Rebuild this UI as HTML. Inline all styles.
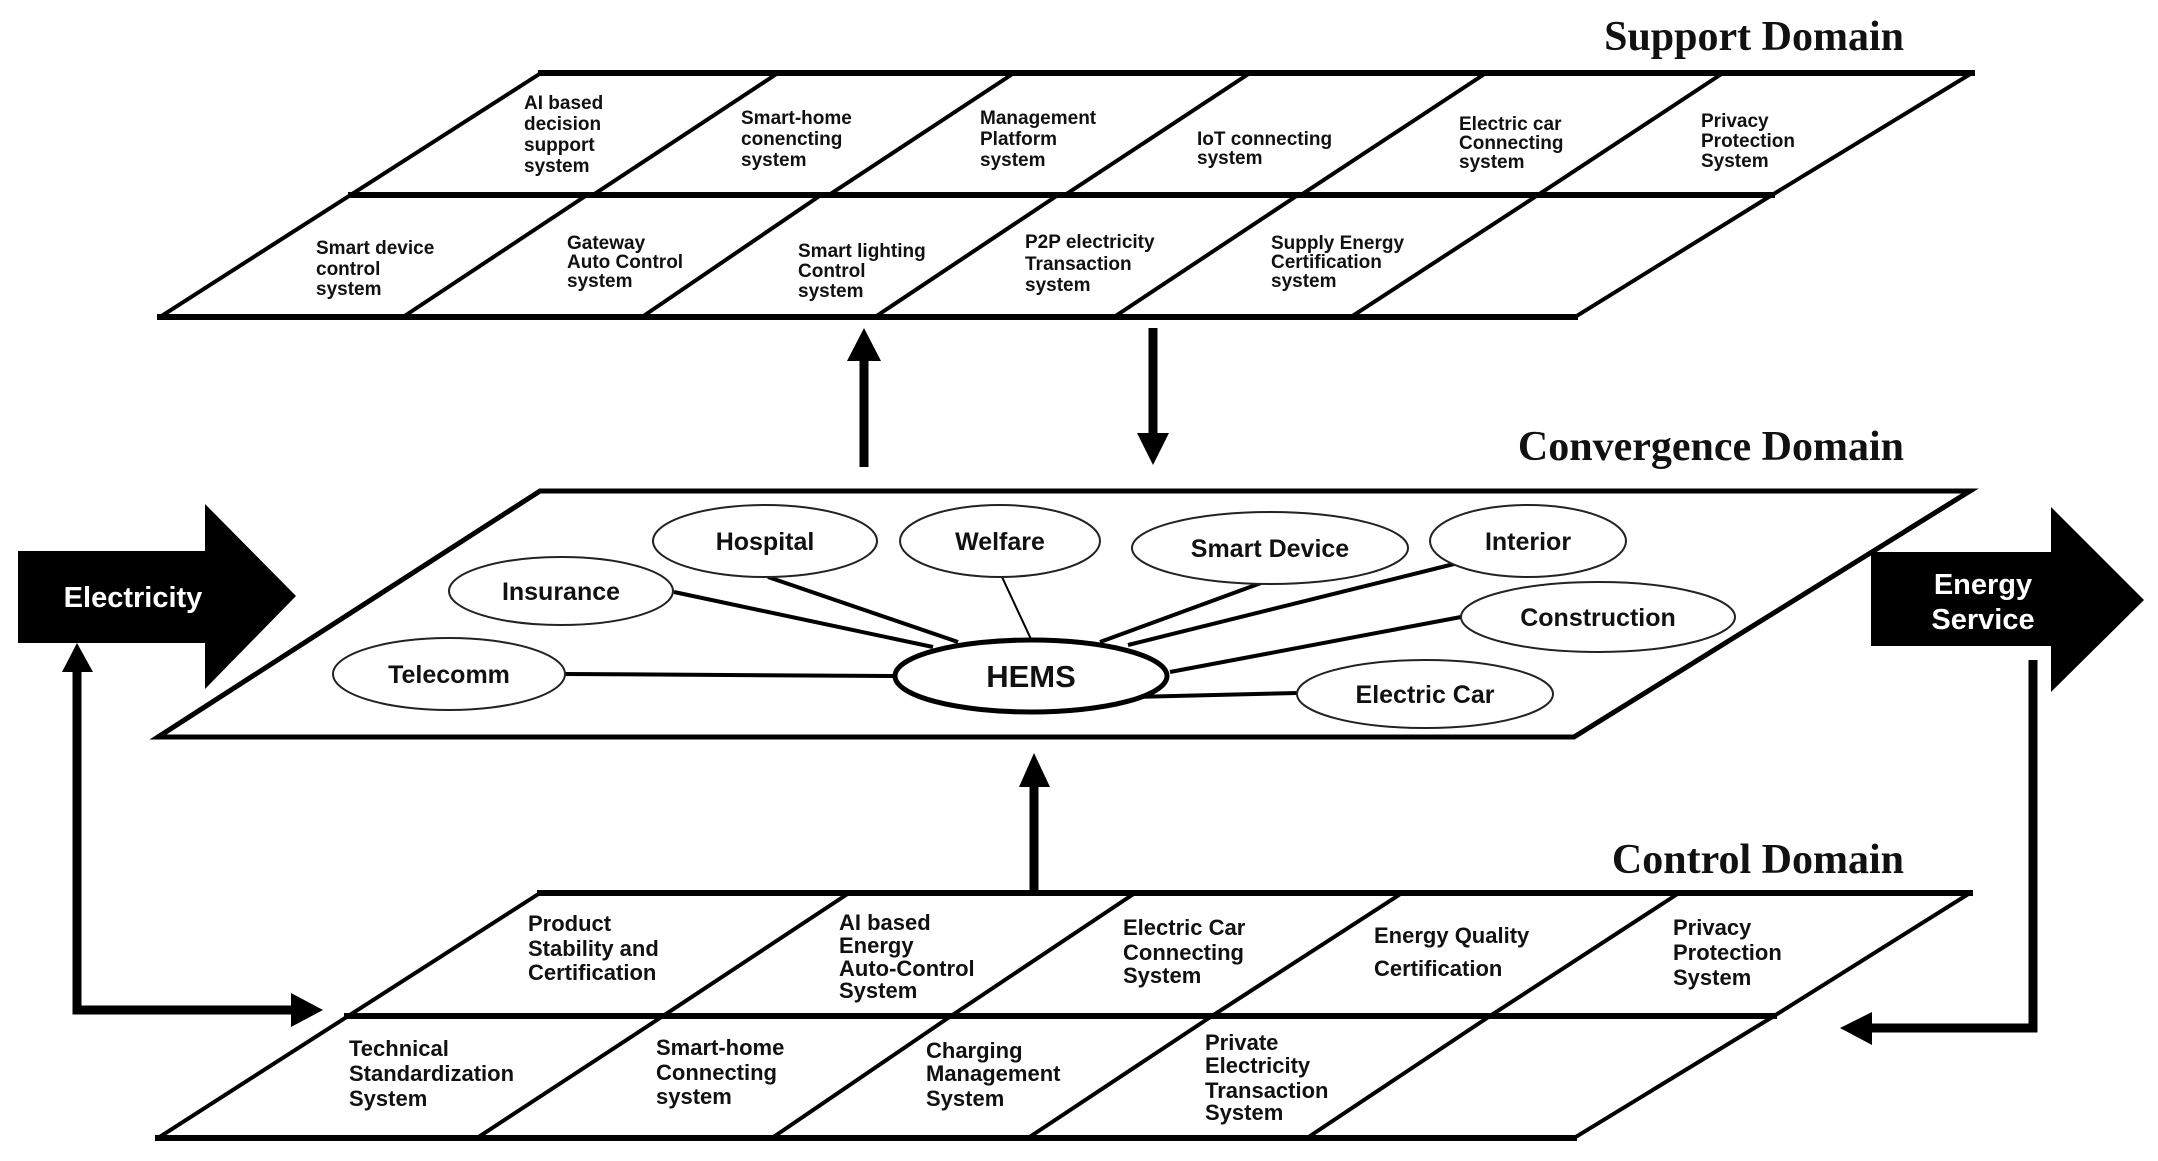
<!DOCTYPE html>
<html><head><meta charset="utf-8"><style>
html,body{margin:0;padding:0;background:#fff;}
svg{display:block;}
.t{font-family:"Liberation Sans",Arial,sans-serif;font-weight:bold;fill:#111;}
.s{font-size:19px;}
.c{font-size:22px;}
.e{font-size:25px;}
.title{font-family:"Liberation Serif",serif;font-weight:bold;font-size:42px;fill:#111;}
</style></head><body>
<svg width="2158" height="1161" viewBox="0 0 2158 1161" xmlns="http://www.w3.org/2000/svg">
<g stroke="#000" fill="none" stroke-linecap="square">
<g stroke-width="4">
<line x1="541" y1="73" x2="160" y2="317"/>
<polyline points="1972,73 1772,195 1575,317"/>
<line x1="778" y1="73" x2="593" y2="195"/>
<line x1="1014" y1="73" x2="829" y2="195"/>
<line x1="1250" y1="73" x2="1065" y2="195"/>
<line x1="1486" y1="73" x2="1301" y2="195"/>
<line x1="1723" y1="73" x2="1538" y2="195"/>
<line x1="587" y1="195" x2="403" y2="317"/>
<line x1="821" y1="195" x2="642" y2="317"/>
<line x1="1058" y1="195" x2="875" y2="317"/>
<line x1="1298" y1="195" x2="1114" y2="317"/>
<line x1="1538" y1="195" x2="1351" y2="317"/>
</g>
<g stroke-width="6">
<line x1="541" y1="73" x2="1972" y2="73"/>
<line x1="351" y1="195" x2="1772" y2="195"/>
<line x1="160" y1="317" x2="1575" y2="317"/>
</g>
<polygon points="540,491 1970,491 1574,737 158,737" stroke-width="5"/>
<g stroke-width="4">
<line x1="540" y1="893" x2="158" y2="1138"/>
<polyline points="1970,893 1774,1016 1574,1138"/>
<line x1="849" y1="893" x2="663" y2="1016"/>
<line x1="1135" y1="893" x2="951" y2="1016"/>
<line x1="1402" y1="893" x2="1212" y2="1016"/>
<line x1="1679" y1="893" x2="1490" y2="1016"/>
<line x1="663" y1="1016" x2="477" y2="1138"/>
<line x1="951" y1="1016" x2="772" y2="1138"/>
<line x1="1212" y1="1016" x2="1028" y2="1138"/>
<line x1="1490" y1="1016" x2="1307" y2="1138"/>
</g>
<g stroke-width="6">
<line x1="540" y1="893" x2="1970" y2="893"/>
<line x1="347" y1="1016" x2="1774" y2="1016"/>
<line x1="158" y1="1138" x2="1574" y2="1138"/>
</g>
<line x1="864" y1="467" x2="864" y2="358" stroke-width="9" stroke-linecap="butt"/>
<line x1="1153" y1="328" x2="1153" y2="436" stroke-width="9" stroke-linecap="butt"/>
<line x1="1034" y1="892" x2="1034" y2="785" stroke-width="9" stroke-linecap="butt"/>
<polyline points="77,670 77,1010 295,1010" stroke-width="9" stroke-linecap="butt"/>
<polyline points="2033,660 2033,1028 1870,1028" stroke-width="9" stroke-linecap="butt"/>
<g stroke-width="4" stroke-linecap="butt">
<line x1="565" y1="674" x2="895" y2="676"/>
<line x1="674" y1="592" x2="933" y2="647"/>
<line x1="768" y1="577" x2="958" y2="642"/>
<line x1="1261" y1="583" x2="1100" y2="642"/>
<line x1="1458" y1="563" x2="1128" y2="645"/>
<line x1="1461" y1="617" x2="1170" y2="672"/>
<line x1="1297" y1="693" x2="1135" y2="697"/>
</g>
<line x1="1002" y1="577" x2="1030" y2="637" stroke-width="2"/>
<g stroke-width="2" fill="#fff" stroke="#222">
<ellipse cx="765" cy="541" rx="112" ry="36"/>
<ellipse cx="1000" cy="541" rx="100" ry="36"/>
<ellipse cx="561" cy="591" rx="112" ry="34"/>
<ellipse cx="449" cy="674" rx="116" ry="36"/>
<ellipse cx="1270" cy="548" rx="138" ry="36"/>
<ellipse cx="1528" cy="541" rx="98" ry="36"/>
<ellipse cx="1598" cy="617" rx="137" ry="35"/>
<ellipse cx="1425" cy="694" rx="128" ry="34"/>
</g>
<ellipse cx="1031" cy="676" rx="136" ry="36" stroke-width="5" fill="#fff"/>
</g>
<g fill="#000">
<polygon points="847,361 881,361 864,328"/>
<polygon points="1137,433 1169,433 1153,465"/>
<polygon points="1019,787 1050,787 1034,753"/>
<polygon points="62,672 93,672 77,643"/>
<polygon points="291,993 291,1027 323,1010"/>
<polygon points="1872,1012 1872,1045 1840,1028"/>
<polygon points="18,551 205,551 205,504 296,596 205,689 205,643 18,643"/>
<polygon points="1871,552 2051,552 2051,507 2144,600 2051,692 2051,646 1871,646"/>
</g>
<text class="title" x="1904" y="50" text-anchor="end">Support Domain</text>
<text class="title" x="1904" y="460" text-anchor="end">Convergence Domain</text>
<text class="title" x="1904" y="873" text-anchor="end">Control Domain</text>
<text class="t" x="133" y="607" font-size="29" style="fill:#fff" text-anchor="middle">Electricity</text>
<text class="t" x="1983" y="594" font-size="29" style="fill:#fff" text-anchor="middle">Energy</text>
<text class="t" x="1983" y="629" font-size="29" style="fill:#fff" text-anchor="middle">Service</text>
<g class="t e" text-anchor="middle">
<text x="765" y="550">Hospital</text>
<text x="1000" y="550">Welfare</text>
<text x="561" y="600">Insurance</text>
<text x="449" y="683">Telecomm</text>
<text x="1270" y="557">Smart Device</text>
<text x="1528" y="550">Interior</text>
<text x="1598" y="626">Construction</text>
<text x="1425" y="703">Electric Car</text>
<text x="1031" y="687" font-size="31">HEMS</text>
</g>
<g class="t s">
<text x="524" y="109">AI based</text><text x="524" y="130">decision</text><text x="524" y="151">support</text><text x="524" y="172">system</text>
<text x="741" y="124">Smart-home</text><text x="741" y="145">conencting</text><text x="741" y="166">system</text>
<text x="980" y="124">Management</text><text x="980" y="145">Platform</text><text x="980" y="166">system</text>
<text x="1197" y="145">IoT connecting</text><text x="1197" y="164">system</text>
<text x="1459" y="130">Electric car</text><text x="1459" y="149">Connecting</text><text x="1459" y="168">system</text>
<text x="1701" y="127">Privacy</text><text x="1701" y="147">Protection</text><text x="1701" y="167">System</text>
<text x="316" y="254">Smart device</text><text x="316" y="275">control</text><text x="316" y="295">system</text>
<text x="567" y="249">Gateway</text><text x="567" y="268">Auto Control</text><text x="567" y="287">system</text>
<text x="798" y="257">Smart lighting</text><text x="798" y="277">Control</text><text x="798" y="297">system</text>
<text x="1025" y="248">P2P electricity</text><text x="1025" y="270">Transaction</text><text x="1025" y="291">system</text>
<text x="1271" y="249">Supply Energy</text><text x="1271" y="268">Certification</text><text x="1271" y="287">system</text>
</g>
<g class="t c">
<text x="528" y="931">Product</text><text x="528" y="956">Stability and</text><text x="528" y="980">Certification</text>
<text x="839" y="930">AI based</text><text x="839" y="953">Energy</text><text x="839" y="976">Auto-Control</text><text x="839" y="998">System</text>
<text x="1123" y="935">Electric Car</text><text x="1123" y="960">Connecting</text><text x="1123" y="983">System</text>
<text x="1374" y="943">Energy Quality</text><text x="1374" y="976">Certification</text>
<text x="1673" y="935">Privacy</text><text x="1673" y="960">Protection</text><text x="1673" y="985">System</text>
<text x="349" y="1056">Technical</text><text x="349" y="1081">Standardization</text><text x="349" y="1106">System</text>
<text x="656" y="1055">Smart-home</text><text x="656" y="1080">Connecting</text><text x="656" y="1104">system</text>
<text x="926" y="1058">Charging</text><text x="926" y="1081">Management</text><text x="926" y="1106">System</text>
<text x="1205" y="1050">Private</text><text x="1205" y="1073">Electricity</text><text x="1205" y="1098">Transaction</text><text x="1205" y="1120">System</text>
</g>
</svg>
</body></html>
